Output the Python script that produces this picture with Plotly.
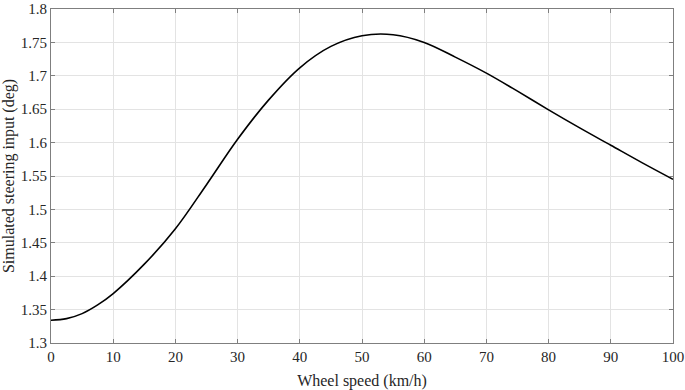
import plotly.graph_objects as go

speed_kmh = [0, 2.5, 5, 7.5, 10, 15, 20, 25, 30, 35, 40, 45, 50, 55, 60, 65, 70, 75, 80, 85, 90, 95, 100]
steer_deg = [1.334, 1.3365, 1.344, 1.357, 1.374, 1.418, 1.471, 1.537, 1.605, 1.664, 1.712, 1.744, 1.760, 1.7615,
             1.750, 1.728, 1.704, 1.677, 1.649, 1.622, 1.596, 1.570, 1.545]

x_ticks = [0, 10, 20, 30, 40, 50, 60, 70, 80, 90, 100]
y_ticks = [1.3, 1.35, 1.4, 1.45, 1.5, 1.55, 1.6, 1.65, 1.7, 1.75, 1.8]
y_tick_labels = ["1.3", "1.35", "1.4", "1.45", "1.5", "1.55", "1.6", "1.65", "1.7", "1.75", "1.8"]

fig = go.Figure()
fig.add_trace(go.Scatter(x=speed_kmh, y=steer_deg, mode="lines",
                         line=dict(color="black", width=1.6, shape="spline", smoothing=1.0),
                         showlegend=False))

axis_common = dict(showline=True, linecolor="#7f7f7f", linewidth=1, mirror="allticks",
                   ticks="inside", ticklen=4, tickcolor="#7f7f7f",
                   showgrid=True, gridcolor="#e3e3e3", gridwidth=1, zeroline=False,
                   automargin=False,
                   tickfont=dict(family="Liberation Serif", size=15, color="#262626"))

fig.update_xaxes(range=[0, 100], tickvals=x_ticks,
                 title=dict(text="Wheel speed (km/h)", font=dict(family="Liberation Serif", size=16, color="#262626")),
                 **axis_common)
fig.update_yaxes(range=[1.3, 1.8], tickvals=y_ticks, ticktext=y_tick_labels,
                 title=dict(text="Simulated steering input (deg)", font=dict(family="Liberation Serif", size=16, color="#262626")),
                 **axis_common)

fig.update_layout(width=685, height=390, margin=dict(l=51, r=12, t=9, b=47),
                  plot_bgcolor="white", paper_bgcolor="white")
fig.write_html("out.html", config={"displayModeBar": False},
               post_script="document.body.style.margin='0';")
